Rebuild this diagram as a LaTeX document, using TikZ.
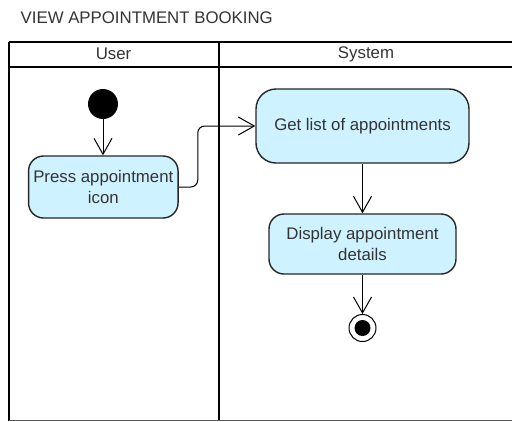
\documentclass[tikz,border=0pt]{standalone}
\usepackage{fontspec}
\setmainfont{Liberation Sans}
\usetikzlibrary{arrows.meta}
\definecolor{actfill}{RGB}{206,242,255}
\definecolor{txt}{RGB}{51,51,51}
\begin{document}
\begin{tikzpicture}[x=1pt,y=-1pt,
  every node/.style={font=\fontsize{16.8}{21}\selectfont, text=txt},
  lane/.style={line width=2pt, draw=black},
  action/.style={draw=black!85, line width=1.4pt, fill=actfill, rounded corners=15pt,
                 align=center, inner sep=0pt},
  flow/.style={draw=black, line width=1pt, -{Straight Barb[length=16pt,width=18pt,line width=1pt]}}]
  \useasboundingbox (0,0) rectangle (512,421);

  % title
  \node[anchor=west, inner sep=0pt] (title) at (20.5,17.5) {VIEW APPOINTMENT BOOKING};

  % swimlane frame
  \draw[lane] (9,41.5) -- (514,41.5);
  \draw[lane] (9,67) -- (514,67);
  \draw[lane] (9,41.5) -- (9,421);
  \draw[lane] (218.5,41.5) -- (218.5,421);
  \draw[black!65, line width=1pt] (9,420.5) -- (514,420.5);
  \node (userhead) at (113.5,54) {User};
  \node (syshead) at (366,54) {System};

  % activity nodes
  \node[circle, fill=black, minimum size=30pt, inner sep=0pt] (start) at (103,104) {};
  \node[action, minimum width=149.5pt, minimum height=62pt] (press) at (103.3,187)
       {Press appointment\\icon};
  \node[action, rounded corners=20pt, minimum width=213pt, minimum height=74pt] (getlist) at (362.5,126)
       {Get list of appointments};
  \node[action, minimum width=187pt, minimum height=60pt] (display) at (362.5,244)
       {Display appointment\\details};
  \node[circle, draw=black, line width=1pt, minimum size=27pt, inner sep=0pt,
        path picture={\fill[black] (path picture bounding box.center) circle (8pt);}]
       (stop) at (362.5,328) {};

  % control flow
  \draw[flow] (start) -- (start |- press.north);
  \draw[flow, rounded corners=7pt] (press.east) -- ++(19,0) |- (getlist.west);
  \draw[flow] (getlist.south) -- (display.north);
  \draw[flow] (display.south) -- (stop.north);
\end{tikzpicture}
\end{document}
